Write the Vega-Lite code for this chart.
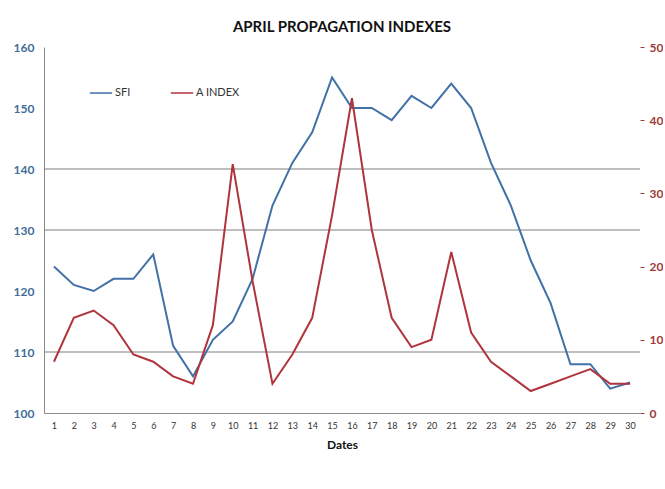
{
  "$schema": "https://vega.github.io/schema/vega-lite/v6.json",
  "width": 596,
  "height": 366,
  "padding": {"left": 13, "top": 20, "right": 0, "bottom": 5},
  "background": "white",
  "title": {"text": "APRIL PROPAGATION  INDEXES", "font": "Lato", "fontSize": 15, "fontWeight": "bold", "color": "#111111", "offset": 6, "anchor": "middle"},
  "config": {"view": {"stroke": null}, "font": "Lato"},
  "data": {"values": [
    {"day": 1, "sfi": 124, "a": 7},
    {"day": 2, "sfi": 121, "a": 13},
    {"day": 3, "sfi": 120, "a": 14},
    {"day": 4, "sfi": 122, "a": 12},
    {"day": 5, "sfi": 122, "a": 8},
    {"day": 6, "sfi": 126, "a": 7},
    {"day": 7, "sfi": 111, "a": 5},
    {"day": 8, "sfi": 106, "a": 4},
    {"day": 9, "sfi": 112, "a": 12},
    {"day": 10, "sfi": 115, "a": 34},
    {"day": 11, "sfi": 122, "a": 18},
    {"day": 12, "sfi": 134, "a": 4},
    {"day": 13, "sfi": 141, "a": 8},
    {"day": 14, "sfi": 146, "a": 13},
    {"day": 15, "sfi": 155, "a": 27},
    {"day": 16, "sfi": 150, "a": 43},
    {"day": 17, "sfi": 150, "a": 25},
    {"day": 18, "sfi": 148, "a": 13},
    {"day": 19, "sfi": 152, "a": 9},
    {"day": 20, "sfi": 150, "a": 10},
    {"day": 21, "sfi": 154, "a": 22},
    {"day": 22, "sfi": 150, "a": 11},
    {"day": 23, "sfi": 141, "a": 7},
    {"day": 24, "sfi": 134, "a": 5},
    {"day": 25, "sfi": 125, "a": 3},
    {"day": 26, "sfi": 118, "a": 4},
    {"day": 27, "sfi": 108, "a": 5},
    {"day": 28, "sfi": 108, "a": 6},
    {"day": 29, "sfi": 104, "a": 4},
    {"day": 30, "sfi": 105, "a": 4}
  ]},
  "encoding": {
    "x": {"field": "day", "type": "ordinal", "scale": {"type": "point", "padding": 0.5},
      "axis": {"title": "Dates", "labelAngle": 0, "ticks": false, "domainColor": "#8a8a8a", "labelFontSize": 9, "labelColor": "#333333", "labelPadding": 8, "titleFontSize": 12, "titleFontWeight": "bold", "titleColor": "#111111", "titlePadding": 9}}
  },
  "layer": [
    {
      "layer": [
        {
          "data": {"values": [{"g": 110}, {"g": 130}, {"g": 140}]},
          "mark": {"type": "rule", "color": "#7f7f7f", "strokeWidth": 1},
          "encoding": {"y": {"field": "g", "type": "quantitative", "scale": {"domain": [100, 160], "nice": false}}, "x": null}
        },
        {
          "mark": {"type": "line", "strokeWidth": 2},
          "encoding": {
            "y": {"field": "sfi", "type": "quantitative", "scale": {"domain": [100, 160], "nice": false},
              "axis": {"title": null, "values": [100, 110, 120, 130, 140, 150, 160], "grid": false, "ticks": false, "domainColor": "#8a8a8a", "labelColor": "#3f6e9a", "labelFontWeight": "bold", "labelFontSize": 12, "labelPadding": 10}},
            "color": {"datum": "SFI", "type": "nominal",
              "scale": {"domain": ["SFI", "A INDEX"], "range": ["#4171a6", "#b0343c"]},
              "legend": {"title": null, "orient": "none", "legendX": 45, "legendY": 34, "direction": "horizontal", "symbolType": "stroke", "symbolSize": 500, "symbolStrokeWidth": 1.5, "labelFontSize": 11, "labelColor": "#333333", "columnPadding": 36, "labelOffset": 2}}
          }
        }
      ]
    },
    {
      "mark": {"type": "line", "strokeWidth": 2},
      "encoding": {
        "y": {"field": "a", "type": "quantitative", "scale": {"domain": [0, 50], "nice": false},
          "axis": {"title": null, "orient": "right", "values": [0, 10, 20, 30, 40, 50], "grid": false, "domain": false, "ticks": true, "tickSize": 4, "tickColor": "#9e3a3a", "labelColor": "#9e3a3a", "labelFontWeight": "bold", "labelFontSize": 12, "labelPadding": 5}},
        "color": {"datum": "A INDEX", "type": "nominal"}
      }
    }
  ],
  "resolve": {"scale": {"y": "independent"}}
}
